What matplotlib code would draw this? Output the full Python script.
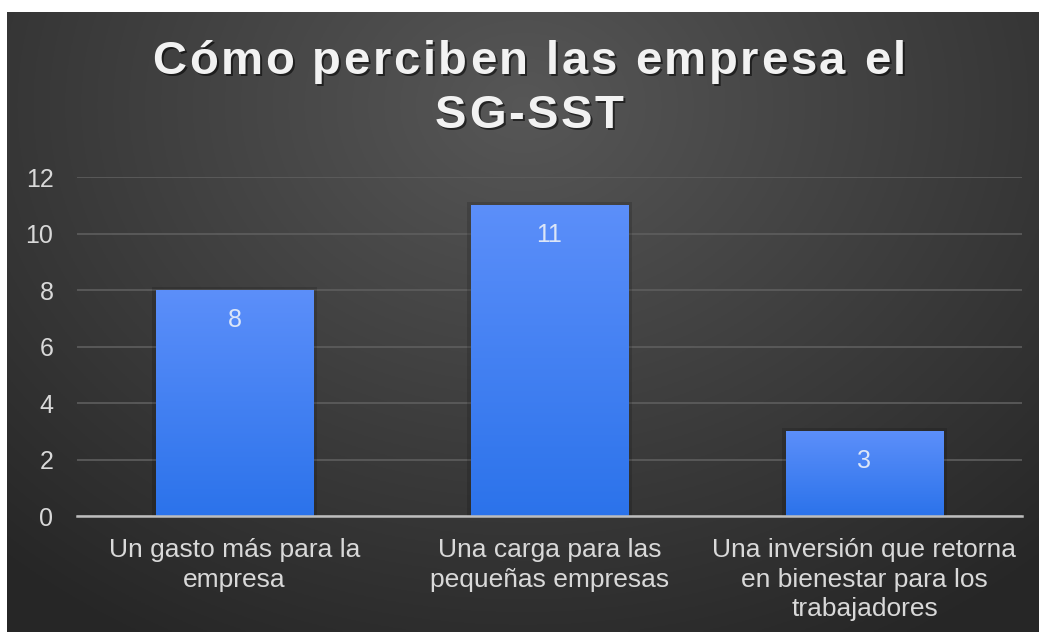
import numpy as np
import matplotlib.pyplot as plt
from matplotlib.patches import Rectangle

plt.rcParams['font.family'] = ['Liberation Sans', 'DejaVu Sans']

# data
categories = ['Un gasto más para la\nempresa',
              'Una carga para las\npequeñas empresas',
              'Una inversión que retorna\nen bienestar para los\ntrabajadores']
values = [8, 11, 3]
yticks = [0, 2, 4, 6, 8, 10, 12]
title_lines = ['Cómo perciben las empresa el', 'SG-SST']

W, H = 1039, 632
fig = plt.figure(figsize=(W / 100, H / 100), dpi=100, facecolor='white')

# background with radial gradient (lighter at top centre)
bg = fig.add_axes([7 / W, 0, 1 - 7 / W, 1 - 12 / H])
bg.set_axis_off()
yy, xx = np.mgrid[0:1:300j, 0:1:500j]
d = np.sqrt(((xx - 0.5) / 0.75) ** 2 + ((yy - 0.15) / 1.0) ** 2)
d = np.clip(d, 0, 1)
light = np.array([0.34, 0.34, 0.34])
dark = np.array([0.15, 0.15, 0.15])
img = light[None, None, :] * (1 - d[..., None]) + dark[None, None, :] * d[..., None]
bg.imshow(img, aspect='auto', extent=[0, 1, 0, 1], origin='upper')
bg.set_xlim(0, 1)
bg.set_ylim(0, 1)

ax = fig.add_axes([77 / W, 1 - 516 / H, (1022 - 77) / W, (516 - 177) / H])
ax.patch.set_alpha(0)

x = np.arange(len(values))
width = 0.5
bars = ax.bar(x, values, width=width, color='none', zorder=3)

# gradient fill for each bar
grad = np.linspace(0, 1, 256)[:, None]
top_c = np.array([0.36, 0.56, 0.98])
bot_c = np.array([0.17, 0.45, 0.92])
gimg = top_c[None, None, :] * (1 - grad[..., None]) + bot_c[None, None, :] * grad[..., None]
for b in bars:
    x0, w, h = b.get_x(), b.get_width(), b.get_height()
    # soft shadow
    ax.add_patch(Rectangle((x0 - 0.012, 0), w + 0.024, h + 0.1, color='black',
                           alpha=0.15, zorder=2, linewidth=0))
    im = ax.imshow(gimg, aspect='auto', extent=[x0, x0 + w, 0, h], zorder=3)
    im.set_clip_path(b)

for xi, v in zip(x, values):
    ax.text(xi, v - 1.05, str(v), ha='center', va='center', color='#dce6f7',
            fontsize=18, zorder=5)

ax.set_xlim(-0.5, len(values) - 0.5)
ax.set_ylim(0, 12)
ax.set_yticks(yticks)
ax.set_yticklabels([str(t) for t in yticks])
ax.set_xticks(x)
ax.set_xticklabels(categories, linespacing=1.28)
ax.yaxis.grid(True, color='#5e5e5e', linewidth=1.2, zorder=0)
ax.set_axisbelow(True)
for s in ['top', 'right', 'left']:
    ax.spines[s].set_visible(False)
ax.spines['bottom'].set_color('#bdbdbd')
ax.spines['bottom'].set_linewidth(1.8)
ax.spines['bottom'].set_zorder(4)
ax.tick_params(axis='y', length=0, pad=17, labelsize=18, labelcolor='#d9d9d9')
ax.tick_params(axis='x', length=0, pad=16, labelsize=19, labelcolor='#d9d9d9')

# title with letter spacing and shadow
renderer = fig.canvas.get_renderer()
tsize = 34
spacing = 2.6  # extra pixels between letters
for line, yc in zip(title_lines, [62, 116]):
    widths = []
    for ch in line:
        t = fig.text(0, 0, ch if ch != ' ' else 'a a', fontsize=tsize, fontweight='bold')
        wpx = t.get_window_extent(renderer).width
        if ch == ' ':
            t2 = fig.text(0, 0, 'aa', fontsize=tsize, fontweight='bold')
            wpx = wpx - t2.get_window_extent(renderer).width
            t2.remove()
        t.remove()
        widths.append(wpx + spacing)
    total = sum(widths) - spacing
    xpos = 529 - total / 2
    for ch, wpx in zip(line, widths):
        if ch != ' ':
            for dx, dy, c, a in [(2, -2, 'black', 0.55), (0, 0, '#f2f2f2', 1.0)]:
                fig.text((xpos + dx) / W, 1 - (yc - dy) / H, ch, ha='left', va='center',
                         fontsize=tsize, fontweight='bold', color=c, alpha=a)
        xpos += wpx

fig.savefig('out.png', dpi=100, facecolor='white')
